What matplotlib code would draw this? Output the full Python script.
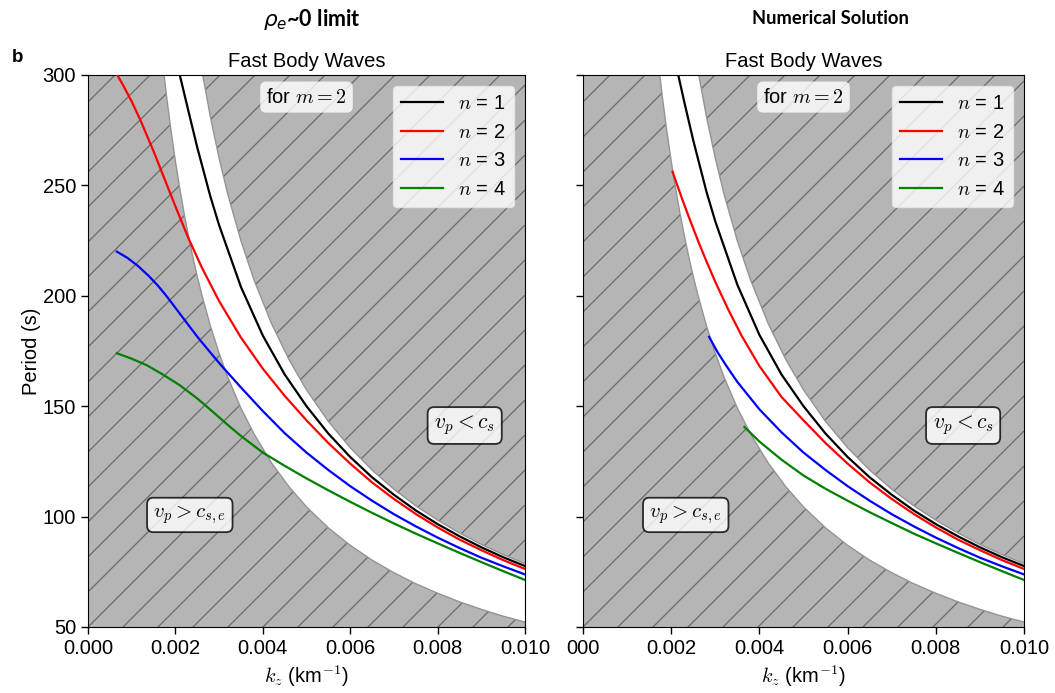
import numpy as np
import matplotlib
matplotlib.use("Agg")
import matplotlib.pyplot as plt
from matplotlib.collections import LineCollection

plt.rcParams['font.family'] = ['Liberation Sans', 'DejaVu Sans']
plt.rcParams['mathtext.fontset'] = 'cm'

# ---------------- data ----------------
# white band (allowed region) boundaries
band_kz = [0.0016, 0.0017, 0.0018, 0.0019, 0.0020, 0.0021, 0.0022, 0.0023, 0.0024,
           0.0025, 0.0026, 0.0028, 0.0030, 0.0032, 0.0035, 0.0038, 0.0042, 0.0046,
           0.0050, 0.0055, 0.0060, 0.0065, 0.0070, 0.0075, 0.0080, 0.0085, 0.0090,
           0.0095, 0.0101]
band_low = [326.3, 307.1, 290.0, 274.7, 261.0, 248.6, 237.3, 227.0, 217.5,
            208.8, 200.8, 186.4, 174.0, 163.1, 149.1, 137.4, 124.3, 113.5,
            104.4, 94.9, 87.0, 80.3, 74.6, 69.6, 65.3, 61.4, 58.0,
            54.9, 51.7]
band_up = [491.9, 462.9, 437.2, 414.2, 393.5, 374.8, 357.7, 342.2, 327.9,
           314.8, 302.7, 281.1, 262.3, 245.9, 224.9, 207.1, 187.4, 171.1,
           157.4, 143.1, 131.2, 121.1, 112.4, 104.9, 98.4, 92.6, 87.4,
           82.8, 77.9]

# common high-kz grid
hi_kz = [0.0050, 0.0055, 0.0060, 0.0065, 0.0070, 0.0075, 0.0080, 0.0085,
         0.0090, 0.0095, 0.0100]

# left panel: rho_e ~ 0 limit
l_n1_kz = [0.00205, 0.0021, 0.0023, 0.0025, 0.0028, 0.0030, 0.0035, 0.0040,
           0.0045] + hi_kz
l_n1_P = [304.5, 300.0, 283.5, 267.2, 245.0, 232.0, 204.0, 182.0,
          164.4, 150.0, 137.6, 127.0, 117.8, 109.9, 102.8, 96.6, 91.1,
          86.1, 81.6, 77.6]
l_n2_kz = [0.00060, 0.00067, 0.0008, 0.0010, 0.0012, 0.0015, 0.0018, 0.0020,
           0.0023, 0.0026, 0.0030, 0.0035, 0.0040, 0.0045] + hi_kz
l_n2_P = [303.0, 300.0, 295.5, 288.0, 279.5, 265.5, 250.5, 240.5,
          226.0, 213.0, 197.6, 181.1, 167.0, 154.7, 143.6, 133.3, 124.0,
          115.5, 108.0, 101.2, 95.1, 89.6, 84.8, 80.3, 76.3]
l_n3_kz = [0.00066, 0.0009, 0.00115, 0.0014, 0.0016, 0.0018, 0.00206, 0.0023,
           0.00252, 0.0028, 0.00306, 0.0035, 0.0040, 0.0045] + hi_kz
l_n3_P = [220.0, 217.2, 213.4, 208.8, 204.6, 199.8, 193.0, 186.7,
          181.0, 174.3, 168.2, 158.5, 147.8, 137.8, 129.0, 121.1, 113.8,
          107.2, 101.1, 95.6, 90.5, 85.8, 81.4, 77.5, 73.8]
l_n4_kz = [0.00066, 0.0010, 0.00134, 0.0017, 0.0021, 0.0025, 0.00286, 0.0032,
           0.0035, 0.0040, 0.0045] + hi_kz
l_n4_P = [174.0, 171.5, 168.6, 164.5, 159.5, 153.5, 147.4, 141.5,
          136.5, 129.0, 123.0, 117.3, 111.9, 106.7, 101.7, 96.9, 92.3,
          87.9, 83.6, 79.4, 75.3, 71.3]

# right panel: numerical solution
r_n1_kz = [0.00212, 0.00216, 0.0023, 0.0025, 0.0028, 0.0030, 0.0035, 0.0040,
           0.0045] + hi_kz
r_n1_P = [304.0, 300.0, 287.5, 270.4, 247.1, 233.7, 205.0, 182.3,
          164.4, 150.0, 137.6, 127.0, 117.8, 109.9, 102.8, 96.6, 91.1,
          86.1, 81.6, 77.6]
r_n2_kz = [0.00203, 0.00214, 0.00226, 0.0024, 0.00262, 0.0028, 0.0030, 0.0033,
           0.0036, 0.0040, 0.0045] + hi_kz
r_n2_P = [256.2, 249.9, 243.2, 235.7, 224.3, 215.6, 206.3, 193.5,
          181.8, 168.2, 154.2, 143.6, 133.3, 124.0, 115.5, 108.0, 101.2,
          95.1, 89.6, 84.8, 80.3, 76.3]
r_n3_kz = [0.00286, 0.00305, 0.00324, 0.0035, 0.0040, 0.0045] + hi_kz
r_n3_P = [181.4, 174.5, 168.6, 161.0, 148.6, 138.2, 129.0, 121.1, 113.8,
          107.2, 101.1, 95.6, 90.5, 85.8, 81.4, 77.5, 73.8]
r_n4_kz = [0.00366, 0.0040, 0.0045, 0.0050, 0.0055, 0.0060, 0.0065, 0.0070,
           0.0075, 0.0080, 0.0085, 0.0090, 0.0095, 0.0100]
r_n4_P = [140.6, 134.0, 125.8, 118.6, 112.6, 107.2, 102.0, 97.1,
          92.3, 87.9, 83.6, 79.4, 75.3, 71.3]

mode_labels = [r'$n$ = 1', r'$n$ = 2', r'$n$ = 3', r'$n$ = 4']
mode_colors = ['black', 'red', 'blue', 'green']

xticks = [0.000, 0.002, 0.004, 0.006, 0.008, 0.010]
xtick_labels_left = ['0.000', '0.002', '0.004', '0.006', '0.008', '0.010']
xtick_labels_right = ['000', '0.002', '0.004', '0.006', '0.008', '0.010']
yticks = [50, 100, 150, 200, 250, 300]

# ---------------- figure ----------------
W, H = 1055, 693
fig = plt.figure(figsize=(W / 100, H / 100), dpi=100)
ax1 = fig.add_axes([88 / W, 1 - 627 / H, 437 / W, 552 / H])
ax2 = fig.add_axes([583 / W, 1 - 627 / H, 441 / W, 552 / H])

FS = 14.5
GRAY = '#b5b5b5'


def add_hatch(ax, spacing=35.0):
    pos = ax.get_position()
    wpx = pos.width * W
    hpx = pos.height * H
    segs = []
    for c in np.arange(-np.ceil(wpx / spacing) * spacing, hpx + spacing, spacing):
        segs.append([(0, c / hpx), (1, (wpx + c) / hpx)])
    lc = LineCollection(segs, colors='#6a6a6a', linewidths=0.9,
                        transform=ax.transAxes, zorder=0.5)
    ax.add_collection(lc, autolim=False)


def panel(ax, curves, xlabels, show_ylabels):
    ax.set_facecolor(GRAY)
    add_hatch(ax)
    ax.fill_between(band_kz, band_low, band_up, facecolor='white',
                    edgecolor='#949494', linewidth=1.0, zorder=1)
    for (kz, P), col, lab in zip(curves, mode_colors, mode_labels):
        ax.plot(kz, P, color=col, lw=1.6, label=lab, zorder=3)
    ax.set_xlim(0, 0.01)
    ax.set_ylim(50, 300)
    ax.set_xticks(xticks)
    ax.set_xticklabels(xlabels)
    ax.set_yticks(yticks)
    if not show_ylabels:
        ax.set_yticklabels([])
    ax.tick_params(labelsize=FS, length=5, width=1)
    ax.set_title('Fast Body Waves', fontsize=FS, pad=6)
    ax.set_xlabel(r'$k_z$ (km$^{-1}$)', fontsize=FS, labelpad=4)
    leg = ax.legend(loc='upper right', fontsize=FS, handlelength=2.1,
                    borderpad=0.4, labelspacing=0.48, handletextpad=0.75,
                    borderaxespad=0.55, fancybox=True)
    leg.get_frame().set_edgecolor('#e8e8e8')
    leg.set_zorder(6)
    ax.text(0.5, 0.96, r'for $m=2$', transform=ax.transAxes, fontsize=FS,
            ha='center', va='center', zorder=6,
            bbox=dict(boxstyle='round', facecolor='white', edgecolor='none', alpha=0.8))
    ax.text(0.862, 0.365, r'$v_p<c_s$', transform=ax.transAxes, fontsize=FS + 1,
            ha='center', va='center', zorder=6,
            bbox=dict(boxstyle='round', facecolor='white', edgecolor='black',
                      alpha=0.8, linewidth=1.3))
    ax.text(0.233, 0.203, r'$v_p>c_{s,e}$', transform=ax.transAxes, fontsize=FS + 0.5,
            ha='center', va='center', zorder=6,
            bbox=dict(boxstyle='round', facecolor='white', edgecolor='black',
                      alpha=0.8, linewidth=1.3))


panel(ax1, [(l_n1_kz, l_n1_P), (l_n2_kz, l_n2_P), (l_n3_kz, l_n3_P), (l_n4_kz, l_n4_P)],
      xtick_labels_left, True)
panel(ax2, [(r_n1_kz, r_n1_P), (r_n2_kz, r_n2_P), (r_n3_kz, r_n3_P), (r_n4_kz, r_n4_P)],
      xtick_labels_right, False)
ax1.set_ylabel('Period (s)', fontsize=FS, labelpad=1)

HEAD = ['Lato', 'Liberation Sans', 'DejaVu Sans']
fig.text(312 / W, 1 - 19 / H, r'$\boldsymbol{\rho_e}$~0 limit',
         fontsize=15.5, fontweight='bold', ha='center', va='center',
         family=HEAD, math_fontfamily='dejavusans')
fig.text(830 / W, 1 - 19 / H, 'Numerical Solution',
         fontsize=13.2, fontweight='bold', ha='center', va='center', family=HEAD)
fig.text(18 / W, 1 - 58 / H, 'b', fontsize=13.5, fontweight='bold',
         ha='center', va='center')

fig.savefig('out.png', dpi=100)
